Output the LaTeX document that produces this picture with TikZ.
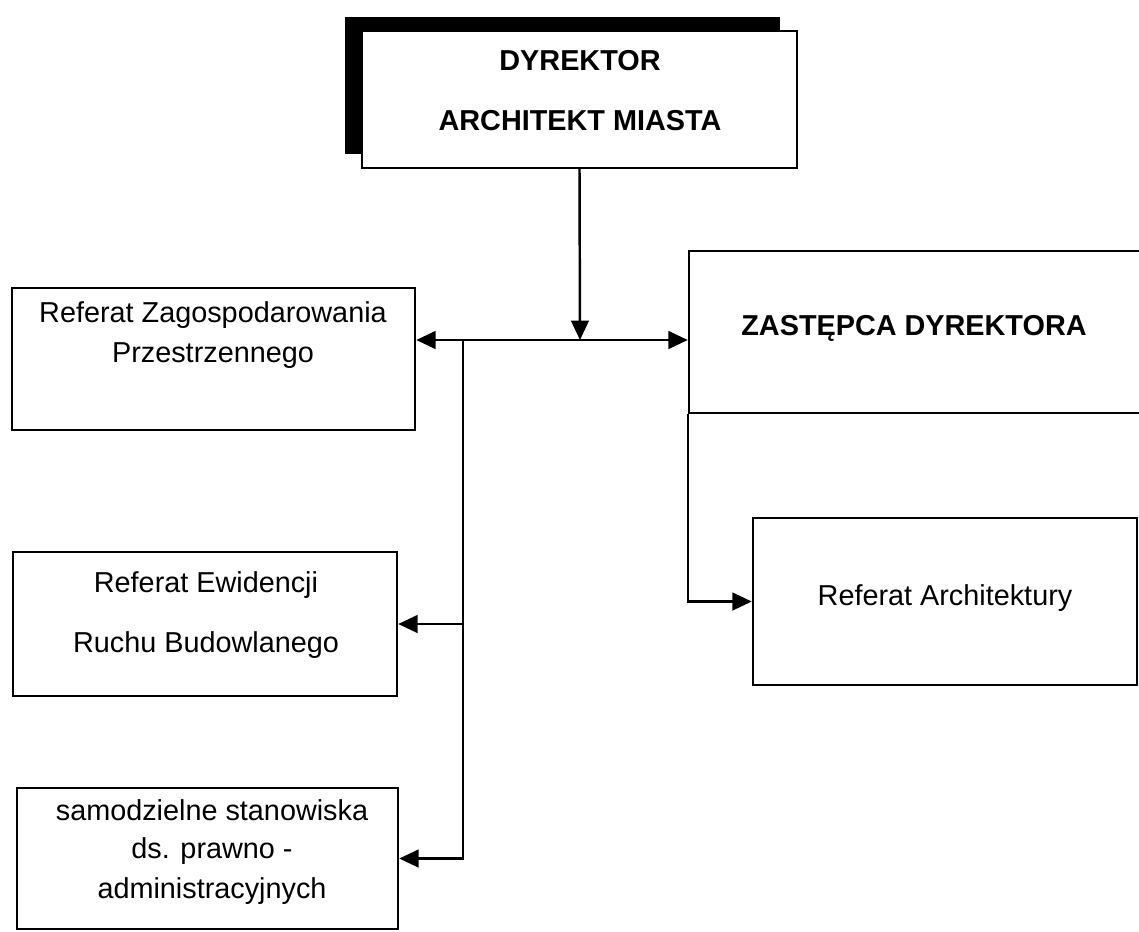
\documentclass[tikz,border=0pt]{standalone}
\usepackage{fontspec}
\setmainfont{Liberation Sans}
\usepackage{tikz}
\usetikzlibrary{arrows.meta, shadows}

\begin{document}
\begin{tikzpicture}[x=0.02cm, y=-0.02cm, line width=1.4pt,
    font=\fontsize{16.4}{20}\selectfont,
    box/.style={draw, fill=white, inner sep=0pt},
    txt/.style={anchor=base, inner sep=0pt},
    arr/.style={-{Triangle[length=11pt,width=10pt]}}]
  \clip (0,0) rectangle (1139,931);
  % boxes
  \node[box, minimum width=8.7cm, minimum height=2.74cm,
        drop shadow={shadow xshift=-0.34cm, shadow yshift=0.28cm, fill=black, opacity=1}]
        (dir) at (579.5,99.5) {};
  \node[box, minimum width=8.06cm, minimum height=2.84cm] (zag) at (213.5,359) {};
  \node[box, minimum width=7.68cm, minimum height=2.88cm] (ewi) at (205,624) {};
  \node[box, minimum width=7.62cm, minimum height=2.82cm] (sam) at (207.5,858.5) {};
  \node[box, minimum width=9.42cm, minimum height=3.24cm] (zas) at (924.5,332) {};
  \node[box, minimum width=7.68cm, minimum height=3.34cm] (arc) at (945,601.5) {};
  % texts
  \foreach \x/\y/\t [count=\i] in {580/70/{\bfseries DYREKTOR},
                                   580/130/{\bfseries ARCHITEKT MIASTA},
                                   213/322/Referat Zagospodarowania,
                                   213/362/Przestrzennego,
                                   206/592/Referat Ewidencji,
                                   206/652/Ruchu Budowlanego,
                                   212/820/samodzielne stanowiska,
                                   212/858/ds. prawno -,
                                   212/898/administracyjnych,
                                   914/335/{\bfseries ZASTĘPCA DYREKTORA},
                                   945/605/Referat Architektury} {
    \node[txt] (t\i) at (\x,\y) {\t};
  }
  % connectors
  \coordinate (hub) at (580,340);
  \coordinate (br) at (463,340);
  \draw[arr] (dir.south) -- (hub);
  \draw[arr] (hub) -- (zag.east |- hub);
  \draw[arr] (hub) -- (zas.west |- hub);
  \draw[arr] (br) |- (sam.east);
  \draw[arr] (br |- ewi.east) -- (ewi.east);
  \draw[arr] (zas.south west) |- (arc.west);
\end{tikzpicture}
\end{document}
